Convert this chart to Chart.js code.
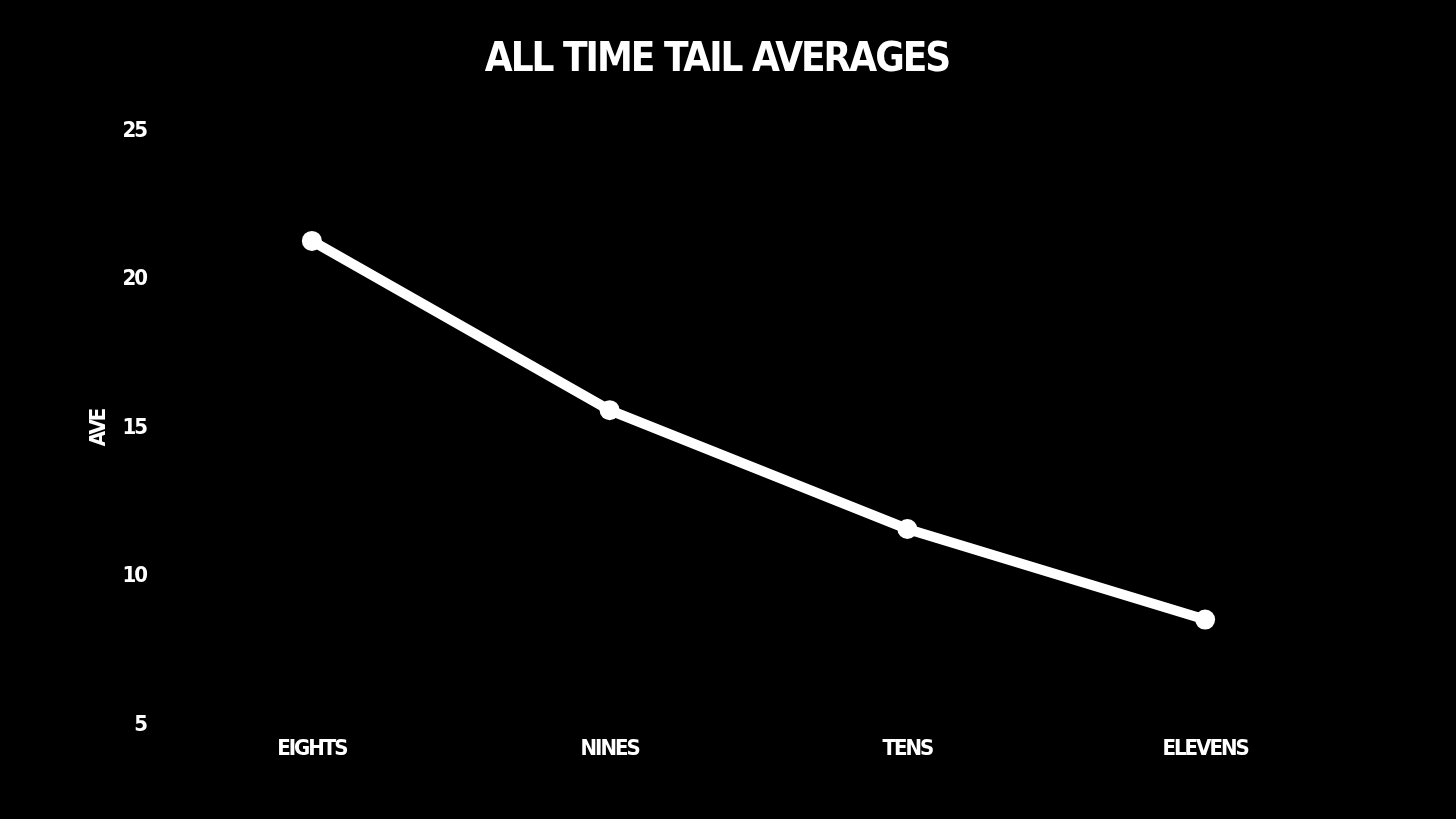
<!DOCTYPE html>
<html>
<head>
<meta charset="utf-8">
<script src="https://cdn.jsdelivr.net/npm/chart.js@4"></script>
<style>
  html, body { margin: 0; padding: 0; background: #000; }
  #wrap { width: 1456px; height: 819px; }
</style>
</head>
<body>
<div id="wrap"><canvas id="myChart"></canvas></div>
<script>
const categories = ['EIGHTS', 'NINES', 'TENS', 'ELEVENS'];
const averages = [21.3, 15.6, 11.6, 8.55];
const yTicks = [5, 10, 15, 20, 25];

const fontFamily = '"DejaVu Sans Condensed", "Liberation Sans Narrow", sans-serif';

// tighten letters a bit, the original uses a narrow display face
const tightText = {
    id: 'tightText',
    beforeLayout: (chart) => { chart.ctx.letterSpacing = '-2px'; },
    beforeDraw: (chart) => { chart.ctx.letterSpacing = '-2px'; }
};

var ctx = document.getElementById('myChart').getContext('2d');
var myChart = new Chart(ctx, {
    type: 'line',
    data: {
        labels: categories,
        datasets: [{
            label: 'AVE',
            data: averages,
            borderColor: '#ffffff',
            backgroundColor: '#ffffff',
            borderWidth: 10,
            pointRadius: 10,
            pointHoverRadius: 10,
            pointBackgroundColor: '#ffffff',
            pointBorderWidth: 0,
            tension: 0
        }]
    },
    plugins: [tightText],
    options: {
        responsive: true,
        maintainAspectRatio: false,
        animation: false,
        layout: { padding: { left: 80, right: 102, top: 0, bottom: 0 } },
        plugins: {
            legend: { display: false },
            tooltip: { enabled: false },
            title: {
                display: true,
                text: 'ALL TIME TAIL AVERAGES',
                color: '#ffffff',
                font: { family: fontFamily, size: 40, weight: 'bold' },
                padding: { top: 37, bottom: 46 }
            }
        },
        scales: {
            x: {
                offset: true,
                grid: { display: false },
                border: { display: false },
                ticks: {
                    color: '#ffffff',
                    font: { family: fontFamily, size: 22, weight: 'bold' },
                    padding: 3
                },
                afterFit: (s) => { s.height = 94; }
            },
            y: {
                min: 5,
                max: 25,
                grid: { display: false },
                border: { display: false },
                afterBuildTicks: (s) => { s.ticks = yTicks.map((v) => ({ value: v })); },
                ticks: {
                    color: '#ffffff',
                    font: { family: fontFamily, size: 22, weight: 'bold' },
                    padding: 9
                },
                title: {
                    display: true,
                    text: 'AVE',
                    color: '#ffffff',
                    font: { family: fontFamily, size: 22, weight: 'bold' },
                    padding: 6
                },
                afterFit: (s) => { s.width = 83; }
            }
        }
    }
});
</script>
</body>
</html>
